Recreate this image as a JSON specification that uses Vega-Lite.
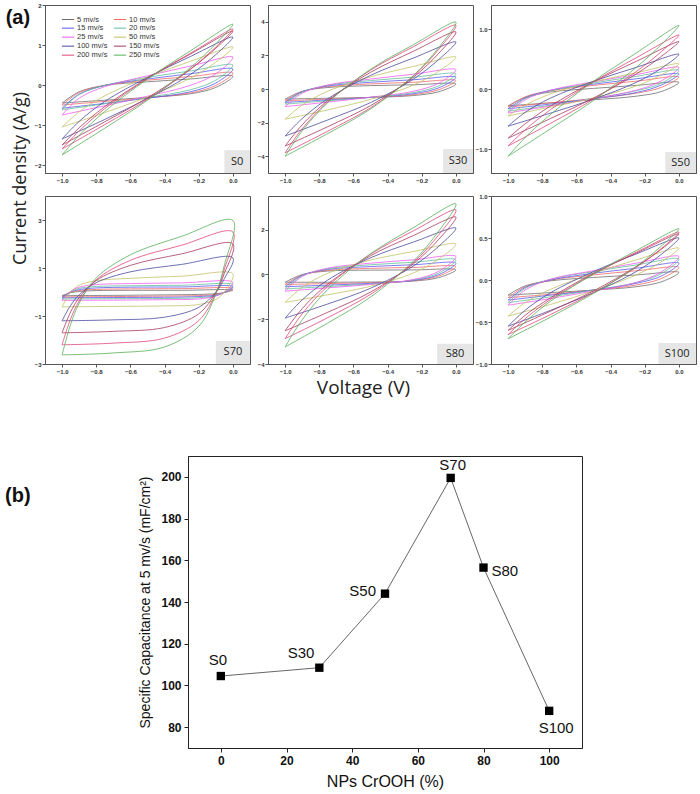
{
"$schema":"https://vega.github.io/schema/vega-lite/v6.json",
"padding":{"left":5,"top":1,"right":0,"bottom":0},
"config":{"font":"Liberation Sans","view":{"stroke":"#555"},
"line":{"interpolate":"catmull-rom"},
"axis":{"domainColor":"#555","tickColor":"#555","labelColor":"#333","grid":false,"labelFontWeight":"bold","labelFontSize":6,"tickSize":3,"labelPadding":1,"titleFontWeight":"normal","titleColor":"#222"}},
"datasets":{
"S0":[
{"r":5,"x":-1,"y":-0.45},{"r":5,"x":-0.9,"y":-0.17},{"r":5,"x":-0.75,"y":-0.01},{"r":5,"x":-0.5,"y":0.08},{"r":5,"x":-0.25,"y":0.15},{"r":5,"x":0,"y":0.22},{"r":5,"x":-0.1,"y":-0.06},{"r":5,"x":-0.25,"y":-0.22},{"r":5,"x":-0.5,"y":-0.31},{"r":5,"x":-0.75,"y":-0.38},{"r":5,"x":-1,"y":-0.45},
{"r":10,"x":-1,"y":-0.5},{"r":10,"x":-0.9,"y":-0.19},{"r":10,"x":-0.75,"y":-0.01},{"r":10,"x":-0.5,"y":0.12},{"r":10,"x":-0.25,"y":0.21},{"r":10,"x":0,"y":0.3},{"r":10,"x":-0.1,"y":-0.01},{"r":10,"x":-0.25,"y":-0.2},{"r":10,"x":-0.5,"y":-0.32},{"r":10,"x":-0.75,"y":-0.41},{"r":10,"x":-1,"y":-0.5},
{"r":15,"x":-1,"y":-0.58},{"r":15,"x":-0.9,"y":-0.23},{"r":15,"x":-0.75,"y":-0.01},{"r":15,"x":-0.5,"y":0.15},{"r":15,"x":-0.25,"y":0.28},{"r":15,"x":0,"y":0.4},{"r":15,"x":-0.1,"y":0.05},{"r":15,"x":-0.25,"y":-0.17},{"r":15,"x":-0.5,"y":-0.33},{"r":15,"x":-0.75,"y":-0.46},{"r":15,"x":-1,"y":-0.58},
{"r":20,"x":-1,"y":-0.62},{"r":20,"x":-0.9,"y":-0.24},{"r":20,"x":-0.75,"y":-0.01},{"r":20,"x":-0.5,"y":0.19},{"r":20,"x":-0.25,"y":0.35},{"r":20,"x":0,"y":0.5},{"r":20,"x":-0.1,"y":0.12},{"r":20,"x":-0.25,"y":-0.12},{"r":20,"x":-0.5,"y":-0.31},{"r":20,"x":-0.75,"y":-0.47},{"r":20,"x":-1,"y":-0.62},
{"r":25,"x":-1,"y":-0.75},{"r":25,"x":-0.9,"y":-0.33},{"r":25,"x":-0.75,"y":-0.04},{"r":25,"x":-0.5,"y":0.23},{"r":25,"x":-0.25,"y":0.47},{"r":25,"x":0,"y":0.7},{"r":25,"x":-0.1,"y":0.28},{"r":25,"x":-0.25,"y":-0.01},{"r":25,"x":-0.5,"y":-0.28},{"r":25,"x":-0.75,"y":-0.52},{"r":25,"x":-1,"y":-0.75},
{"r":50,"x":-1,"y":-1.05},{"r":50,"x":-0.9,"y":-0.67},{"r":50,"x":-0.75,"y":-0.27},{"r":50,"x":-0.5,"y":0.2},{"r":50,"x":-0.25,"y":0.59},{"r":50,"x":0,"y":0.95},{"r":50,"x":-0.1,"y":0.57},{"r":50,"x":-0.25,"y":0.17},{"r":50,"x":-0.5,"y":-0.3},{"r":50,"x":-0.75,"y":-0.69},{"r":50,"x":-1,"y":-1.05},
{"r":100,"x":-1,"y":-1.35},{"r":100,"x":-0.9,"y":-0.91},{"r":100,"x":-0.75,"y":-0.41},{"r":100,"x":-0.5,"y":0.19},{"r":100,"x":-0.25,"y":0.71},{"r":100,"x":0,"y":1.2},{"r":100,"x":-0.1,"y":0.76},{"r":100,"x":-0.25,"y":0.26},{"r":100,"x":-0.5,"y":-0.34},{"r":100,"x":-0.75,"y":-0.86},{"r":100,"x":-1,"y":-1.35},
{"r":150,"x":-1,"y":-1.5},{"r":150,"x":-0.9,"y":-1.07},{"r":150,"x":-0.75,"y":-0.54},{"r":150,"x":-0.5,"y":0.17},{"r":150,"x":-0.25,"y":0.77},{"r":150,"x":0,"y":1.35},{"r":150,"x":-0.1,"y":0.92},{"r":150,"x":-0.25,"y":0.39},{"r":150,"x":-0.5,"y":-0.32},{"r":150,"x":-0.75,"y":-0.92},{"r":150,"x":-1,"y":-1.5},
{"r":200,"x":-1,"y":-1.6},{"r":200,"x":-0.9,"y":-1.15},{"r":200,"x":-0.75,"y":-0.59},{"r":200,"x":-0.5,"y":0.16},{"r":200,"x":-0.25,"y":0.79},{"r":200,"x":0,"y":1.4},{"r":200,"x":-0.1,"y":0.95},{"r":200,"x":-0.25,"y":0.39},{"r":200,"x":-0.5,"y":-0.36},{"r":200,"x":-0.75,"y":-0.99},{"r":200,"x":-1,"y":-1.6},
{"r":250,"x":-1,"y":-1.75},{"r":250,"x":-0.9,"y":-1.26},{"r":250,"x":-0.75,"y":-0.66},{"r":250,"x":-0.5,"y":0.15},{"r":250,"x":-0.25,"y":0.85},{"r":250,"x":0,"y":1.52},{"r":250,"x":-0.1,"y":1.03},{"r":250,"x":-0.25,"y":0.43},{"r":250,"x":-0.5,"y":-0.38},{"r":250,"x":-0.75,"y":-1.08},{"r":250,"x":-1,"y":-1.75}],
"S30":[
{"r":5,"x":-1,"y":-0.6},{"r":5,"x":-0.9,"y":-0.14},{"r":5,"x":-0.75,"y":0.09},{"r":5,"x":-0.5,"y":0.2},{"r":5,"x":-0.25,"y":0.25},{"r":5,"x":0,"y":0.3},{"r":5,"x":-0.1,"y":-0.16},{"r":5,"x":-0.25,"y":-0.39},{"r":5,"x":-0.5,"y":-0.5},{"r":5,"x":-0.75,"y":-0.55},{"r":5,"x":-1,"y":-0.6},
{"r":10,"x":-1,"y":-0.7},{"r":10,"x":-0.9,"y":-0.16},{"r":10,"x":-0.75,"y":0.14},{"r":10,"x":-0.5,"y":0.3},{"r":10,"x":-0.25,"y":0.4},{"r":10,"x":0,"y":0.5},{"r":10,"x":-0.1,"y":-0.04},{"r":10,"x":-0.25,"y":-0.34},{"r":10,"x":-0.5,"y":-0.5},{"r":10,"x":-0.75,"y":-0.6},{"r":10,"x":-1,"y":-0.7},
{"r":15,"x":-1,"y":-0.8},{"r":15,"x":-0.9,"y":-0.17},{"r":15,"x":-0.75,"y":0.18},{"r":15,"x":-0.5,"y":0.4},{"r":15,"x":-0.25,"y":0.55},{"r":15,"x":0,"y":0.7},{"r":15,"x":-0.1,"y":0.07},{"r":15,"x":-0.25,"y":-0.28},{"r":15,"x":-0.5,"y":-0.5},{"r":15,"x":-0.75,"y":-0.65},{"r":15,"x":-1,"y":-0.8},
{"r":20,"x":-1,"y":-0.9},{"r":20,"x":-0.9,"y":-0.19},{"r":20,"x":-0.75,"y":0.22},{"r":20,"x":-0.5,"y":0.5},{"r":20,"x":-0.25,"y":0.7},{"r":20,"x":0,"y":0.9},{"r":20,"x":-0.1,"y":0.19},{"r":20,"x":-0.25,"y":-0.22},{"r":20,"x":-0.5,"y":-0.5},{"r":20,"x":-0.75,"y":-0.7},{"r":20,"x":-1,"y":-0.9},
{"r":25,"x":-1,"y":-1.05},{"r":25,"x":-0.9,"y":-0.25},{"r":25,"x":-0.75,"y":0.24},{"r":25,"x":-0.5,"y":0.59},{"r":25,"x":-0.25,"y":0.88},{"r":25,"x":0,"y":1.15},{"r":25,"x":-0.1,"y":0.35},{"r":25,"x":-0.25,"y":-0.14},{"r":25,"x":-0.5,"y":-0.49},{"r":25,"x":-0.75,"y":-0.78},{"r":25,"x":-1,"y":-1.05},
{"r":50,"x":-1,"y":-1.8},{"r":50,"x":-0.9,"y":-0.96},{"r":50,"x":-0.75,"y":-0.13},{"r":50,"x":-0.5,"y":0.72},{"r":50,"x":-0.25,"y":1.34},{"r":50,"x":0,"y":1.9},{"r":50,"x":-0.1,"y":1.06},{"r":50,"x":-0.25,"y":0.23},{"r":50,"x":-0.5,"y":-0.62},{"r":50,"x":-0.75,"y":-1.24},{"r":50,"x":-1,"y":-1.8},
{"r":100,"x":-1,"y":-2.8},{"r":100,"x":-0.9,"y":-1.76},{"r":100,"x":-0.75,"y":-0.58},{"r":100,"x":-0.5,"y":0.81},{"r":100,"x":-0.25,"y":1.84},{"r":100,"x":0,"y":2.8},{"r":100,"x":-0.1,"y":1.76},{"r":100,"x":-0.25,"y":0.58},{"r":100,"x":-0.5,"y":-0.81},{"r":100,"x":-0.75,"y":-1.84},{"r":100,"x":-1,"y":-2.8},
{"r":150,"x":-1,"y":-3.4},{"r":150,"x":-0.9,"y":-2.13},{"r":150,"x":-0.75,"y":-0.69},{"r":150,"x":-0.5,"y":0.99},{"r":150,"x":-0.25,"y":2.24},{"r":150,"x":0,"y":3.4},{"r":150,"x":-0.1,"y":2.13},{"r":150,"x":-0.25,"y":0.69},{"r":150,"x":-0.5,"y":-0.99},{"r":150,"x":-0.75,"y":-2.24},{"r":150,"x":-1,"y":-3.4},
{"r":200,"x":-1,"y":-3.8},{"r":200,"x":-0.9,"y":-2.37},{"r":200,"x":-0.75,"y":-0.77},{"r":200,"x":-0.5,"y":1.12},{"r":200,"x":-0.25,"y":2.51},{"r":200,"x":0,"y":3.8},{"r":200,"x":-0.1,"y":2.37},{"r":200,"x":-0.25,"y":0.77},{"r":200,"x":-0.5,"y":-1.12},{"r":200,"x":-0.75,"y":-2.51},{"r":200,"x":-1,"y":-3.8},
{"r":250,"x":-1,"y":-4.0},{"r":250,"x":-0.9,"y":-2.5},{"r":250,"x":-0.75,"y":-0.81},{"r":250,"x":-0.5,"y":1.17},{"r":250,"x":-0.25,"y":2.63},{"r":250,"x":0,"y":3.98},{"r":250,"x":-0.1,"y":2.48},{"r":250,"x":-0.25,"y":0.79},{"r":250,"x":-0.5,"y":-1.19},{"r":250,"x":-0.75,"y":-2.65},{"r":250,"x":-1,"y":-4.0}],
"S50":[
{"r":5,"x":-1,"y":-0.28},{"r":5,"x":-0.9,"y":-0.14},{"r":5,"x":-0.75,"y":-0.05},{"r":5,"x":-0.5,"y":0.01},{"r":5,"x":-0.25,"y":0.06},{"r":5,"x":0,"y":0.11},{"r":5,"x":-0.1,"y":-0.04},{"r":5,"x":-0.25,"y":-0.12},{"r":5,"x":-0.5,"y":-0.18},{"r":5,"x":-0.75,"y":-0.23},{"r":5,"x":-1,"y":-0.28},
{"r":10,"x":-1,"y":-0.3},{"r":10,"x":-0.9,"y":-0.13},{"r":10,"x":-0.75,"y":-0.03},{"r":10,"x":-0.5,"y":0.06},{"r":10,"x":-0.25,"y":0.13},{"r":10,"x":0,"y":0.2},{"r":10,"x":-0.1,"y":0.03},{"r":10,"x":-0.25,"y":-0.07},{"r":10,"x":-0.5,"y":-0.16},{"r":10,"x":-0.75,"y":-0.23},{"r":10,"x":-1,"y":-0.3},
{"r":15,"x":-1,"y":-0.33},{"r":15,"x":-0.9,"y":-0.15},{"r":15,"x":-0.75,"y":-0.02},{"r":15,"x":-0.5,"y":0.08},{"r":15,"x":-0.25,"y":0.17},{"r":15,"x":0,"y":0.25},{"r":15,"x":-0.1,"y":0.07},{"r":15,"x":-0.25,"y":-0.06},{"r":15,"x":-0.5,"y":-0.16},{"r":15,"x":-0.75,"y":-0.25},{"r":15,"x":-1,"y":-0.33},
{"r":20,"x":-1,"y":-0.37},{"r":20,"x":-0.9,"y":-0.16},{"r":20,"x":-0.75,"y":-0.03},{"r":20,"x":-0.5,"y":0.1},{"r":20,"x":-0.25,"y":0.21},{"r":20,"x":0,"y":0.31},{"r":20,"x":-0.1,"y":0.1},{"r":20,"x":-0.25,"y":-0.03},{"r":20,"x":-0.5,"y":-0.16},{"r":20,"x":-0.75,"y":-0.27},{"r":20,"x":-1,"y":-0.37},
{"r":25,"x":-1,"y":-0.4},{"r":25,"x":-0.9,"y":-0.18},{"r":25,"x":-0.75,"y":-0.02},{"r":25,"x":-0.5,"y":0.12},{"r":25,"x":-0.25,"y":0.24},{"r":25,"x":0,"y":0.36},{"r":25,"x":-0.1,"y":0.14},{"r":25,"x":-0.25,"y":-0.02},{"r":25,"x":-0.5,"y":-0.16},{"r":25,"x":-0.75,"y":-0.28},{"r":25,"x":-1,"y":-0.4},
{"r":50,"x":-1,"y":-0.45},{"r":50,"x":-0.9,"y":-0.27},{"r":50,"x":-0.75,"y":-0.08},{"r":50,"x":-0.5,"y":0.12},{"r":50,"x":-0.25,"y":0.27},{"r":50,"x":0,"y":0.42},{"r":50,"x":-0.1,"y":0.24},{"r":50,"x":-0.25,"y":0.05},{"r":50,"x":-0.5,"y":-0.15},{"r":50,"x":-0.75,"y":-0.3},{"r":50,"x":-1,"y":-0.45},
{"r":100,"x":-1,"y":-0.62},{"r":100,"x":-0.9,"y":-0.39},{"r":100,"x":-0.75,"y":-0.15},{"r":100,"x":-0.5,"y":0.13},{"r":100,"x":-0.25,"y":0.36},{"r":100,"x":0,"y":0.58},{"r":100,"x":-0.1,"y":0.35},{"r":100,"x":-0.25,"y":0.11},{"r":100,"x":-0.5,"y":-0.17},{"r":100,"x":-0.75,"y":-0.4},{"r":100,"x":-1,"y":-0.62},
{"r":150,"x":-1,"y":-0.82},{"r":150,"x":-0.9,"y":-0.58},{"r":150,"x":-0.75,"y":-0.28},{"r":150,"x":-0.5,"y":0.12},{"r":150,"x":-0.25,"y":0.46},{"r":150,"x":0,"y":0.79},{"r":150,"x":-0.1,"y":0.55},{"r":150,"x":-0.25,"y":0.25},{"r":150,"x":-0.5,"y":-0.15},{"r":150,"x":-0.75,"y":-0.49},{"r":150,"x":-1,"y":-0.82},
{"r":200,"x":-1,"y":-0.95},{"r":200,"x":-0.9,"y":-0.68},{"r":200,"x":-0.75,"y":-0.34},{"r":200,"x":-0.5,"y":0.12},{"r":200,"x":-0.25,"y":0.52},{"r":200,"x":0,"y":0.9},{"r":200,"x":-0.1,"y":0.63},{"r":200,"x":-0.25,"y":0.29},{"r":200,"x":-0.5,"y":-0.17},{"r":200,"x":-0.75,"y":-0.57},{"r":200,"x":-1,"y":-0.95},
{"r":250,"x":-1,"y":-1.12},{"r":250,"x":-0.9,"y":-0.81},{"r":250,"x":-0.75,"y":-0.42},{"r":250,"x":-0.5,"y":0.13},{"r":250,"x":-0.25,"y":0.6},{"r":250,"x":0,"y":1.06},{"r":250,"x":-0.1,"y":0.75},{"r":250,"x":-0.25,"y":0.36},{"r":250,"x":-0.5,"y":-0.19},{"r":250,"x":-0.75,"y":-0.66},{"r":250,"x":-1,"y":-1.12}],
"S70":[
{"r":5,"x":-1,"y":-0.15},{"r":5,"x":-0.95,"y":-0.03},{"r":5,"x":-0.9,"y":0.02},{"r":5,"x":-0.8,"y":0.06},{"r":5,"x":-0.6,"y":0.07},{"r":5,"x":-0.3,"y":0.07},{"r":5,"x":0,"y":0.08},{"r":5,"x":-0.05,"y":-0.02},{"r":5,"x":-0.1,"y":-0.07},{"r":5,"x":-0.2,"y":-0.1},{"r":5,"x":-0.4,"y":-0.12},{"r":5,"x":-0.7,"y":-0.14},{"r":5,"x":-1,"y":-0.15},
{"r":10,"x":-1,"y":-0.2},{"r":10,"x":-0.95,"y":-0.02},{"r":10,"x":-0.9,"y":0.06},{"r":10,"x":-0.8,"y":0.11},{"r":10,"x":-0.6,"y":0.13},{"r":10,"x":-0.3,"y":0.14},{"r":10,"x":0,"y":0.15},{"r":10,"x":-0.05,"y":-0.02},{"r":10,"x":-0.1,"y":-0.1},{"r":10,"x":-0.2,"y":-0.15},{"r":10,"x":-0.4,"y":-0.17},{"r":10,"x":-0.7,"y":-0.19},{"r":10,"x":-1,"y":-0.2},
{"r":15,"x":-1,"y":-0.24},{"r":15,"x":-0.95,"y":0.0},{"r":15,"x":-0.9,"y":0.1},{"r":15,"x":-0.8,"y":0.17},{"r":15,"x":-0.6,"y":0.2},{"r":15,"x":-0.3,"y":0.21},{"r":15,"x":0,"y":0.22},{"r":15,"x":-0.05,"y":-0.02},{"r":15,"x":-0.1,"y":-0.13},{"r":15,"x":-0.2,"y":-0.19},{"r":15,"x":-0.4,"y":-0.22},{"r":15,"x":-0.7,"y":-0.23},{"r":15,"x":-1,"y":-0.24},
{"r":20,"x":-1,"y":-0.29},{"r":20,"x":-0.95,"y":0.01},{"r":20,"x":-0.9,"y":0.15},{"r":20,"x":-0.8,"y":0.23},{"r":20,"x":-0.6,"y":0.26},{"r":20,"x":-0.3,"y":0.28},{"r":20,"x":0,"y":0.3},{"r":20,"x":-0.05,"y":-0.01},{"r":20,"x":-0.1,"y":-0.15},{"r":20,"x":-0.2,"y":-0.24},{"r":20,"x":-0.4,"y":-0.27},{"r":20,"x":-0.7,"y":-0.28},{"r":20,"x":-1,"y":-0.29},
{"r":25,"x":-1,"y":-0.35},{"r":25,"x":-0.95,"y":0.03},{"r":25,"x":-0.9,"y":0.2},{"r":25,"x":-0.8,"y":0.31},{"r":25,"x":-0.6,"y":0.35},{"r":25,"x":-0.3,"y":0.38},{"r":25,"x":0,"y":0.4},{"r":25,"x":-0.05,"y":0.0},{"r":25,"x":-0.1,"y":-0.17},{"r":25,"x":-0.2,"y":-0.29},{"r":25,"x":-0.4,"y":-0.32},{"r":25,"x":-0.7,"y":-0.34},{"r":25,"x":-1,"y":-0.35},
{"r":50,"x":-1,"y":-0.62},{"r":50,"x":-0.95,"y":0.0},{"r":50,"x":-0.9,"y":0.28},{"r":50,"x":-0.8,"y":0.47},{"r":50,"x":-0.6,"y":0.57},{"r":50,"x":-0.3,"y":0.66},{"r":50,"x":0,"y":0.75},{"r":50,"x":-0.05,"y":0.01},{"r":50,"x":-0.1,"y":-0.31},{"r":50,"x":-0.2,"y":-0.52},{"r":50,"x":-0.4,"y":-0.58},{"r":50,"x":-0.7,"y":-0.6},{"r":50,"x":-1,"y":-0.62},
{"r":100,"x":-1,"y":-1.2},{"r":100,"x":-0.95,"y":-0.56},{"r":100,"x":-0.9,"y":-0.12},{"r":100,"x":-0.8,"y":0.39},{"r":100,"x":-0.6,"y":0.84},{"r":100,"x":-0.3,"y":1.15},{"r":100,"x":0,"y":1.42},{"r":100,"x":-0.05,"y":0.56},{"r":100,"x":-0.1,"y":-0.01},{"r":100,"x":-0.2,"y":-0.64},{"r":100,"x":-0.4,"y":-1.05},{"r":100,"x":-0.7,"y":-1.16},{"r":100,"x":-1,"y":-1.2},
{"r":150,"x":-1,"y":-1.7},{"r":150,"x":-0.95,"y":-0.83},{"r":150,"x":-0.9,"y":-0.24},{"r":150,"x":-0.8,"y":0.48},{"r":150,"x":-0.6,"y":1.11},{"r":150,"x":-0.3,"y":1.59},{"r":150,"x":0,"y":2.0},{"r":150,"x":-0.05,"y":0.78},{"r":150,"x":-0.1,"y":-0.02},{"r":150,"x":-0.2,"y":-0.91},{"r":150,"x":-0.4,"y":-1.48},{"r":150,"x":-0.7,"y":-1.64},{"r":150,"x":-1,"y":-1.7},
{"r":200,"x":-1,"y":-2.2},{"r":200,"x":-0.95,"y":-1.12},{"r":200,"x":-0.9,"y":-0.38},{"r":200,"x":-0.8,"y":0.51},{"r":200,"x":-0.6,"y":1.32},{"r":200,"x":-0.3,"y":1.95},{"r":200,"x":0,"y":2.5},{"r":200,"x":-0.05,"y":0.96},{"r":200,"x":-0.1,"y":-0.06},{"r":200,"x":-0.2,"y":-1.19},{"r":200,"x":-0.4,"y":-1.92},{"r":200,"x":-0.7,"y":-2.13},{"r":200,"x":-1,"y":-2.2},
{"r":250,"x":-1,"y":-2.62},{"r":250,"x":-0.95,"y":-1.35},{"r":250,"x":-0.9,"y":-0.47},{"r":250,"x":-0.8,"y":0.59},{"r":250,"x":-0.6,"y":1.55},{"r":250,"x":-0.3,"y":2.32},{"r":250,"x":0,"y":2.98},{"r":250,"x":-0.05,"y":1.13},{"r":250,"x":-0.1,"y":-0.08},{"r":250,"x":-0.2,"y":-1.43},{"r":250,"x":-0.4,"y":-2.29},{"r":250,"x":-0.7,"y":-2.54},{"r":250,"x":-1,"y":-2.62}],
"S80":[
{"r":5,"x":-1,"y":-0.35},{"r":5,"x":-0.9,"y":-0.01},{"r":5,"x":-0.75,"y":0.15},{"r":5,"x":-0.5,"y":0.19},{"r":5,"x":-0.25,"y":0.2},{"r":5,"x":0,"y":0.2},{"r":5,"x":-0.1,"y":-0.14},{"r":5,"x":-0.25,"y":-0.3},{"r":5,"x":-0.5,"y":-0.34},{"r":5,"x":-0.75,"y":-0.35},{"r":5,"x":-1,"y":-0.35},
{"r":10,"x":-1,"y":-0.45},{"r":10,"x":-0.9,"y":-0.03},{"r":10,"x":-0.75,"y":0.18},{"r":10,"x":-0.5,"y":0.27},{"r":10,"x":-0.25,"y":0.31},{"r":10,"x":0,"y":0.35},{"r":10,"x":-0.1,"y":-0.07},{"r":10,"x":-0.25,"y":-0.28},{"r":10,"x":-0.5,"y":-0.37},{"r":10,"x":-0.75,"y":-0.41},{"r":10,"x":-1,"y":-0.45},
{"r":15,"x":-1,"y":-0.55},{"r":15,"x":-0.9,"y":-0.04},{"r":15,"x":-0.75,"y":0.22},{"r":15,"x":-0.5,"y":0.35},{"r":15,"x":-0.25,"y":0.43},{"r":15,"x":0,"y":0.5},{"r":15,"x":-0.1,"y":-0.01},{"r":15,"x":-0.25,"y":-0.27},{"r":15,"x":-0.5,"y":-0.4},{"r":15,"x":-0.75,"y":-0.48},{"r":15,"x":-1,"y":-0.55},
{"r":20,"x":-1,"y":-0.65},{"r":20,"x":-0.9,"y":-0.06},{"r":20,"x":-0.75,"y":0.25},{"r":20,"x":-0.5,"y":0.43},{"r":20,"x":-0.25,"y":0.54},{"r":20,"x":0,"y":0.65},{"r":20,"x":-0.1,"y":0.06},{"r":20,"x":-0.25,"y":-0.25},{"r":20,"x":-0.5,"y":-0.43},{"r":20,"x":-0.75,"y":-0.54},{"r":20,"x":-1,"y":-0.65},
{"r":25,"x":-1,"y":-0.75},{"r":25,"x":-0.9,"y":-0.09},{"r":25,"x":-0.75,"y":0.28},{"r":25,"x":-0.5,"y":0.5},{"r":25,"x":-0.25,"y":0.65},{"r":25,"x":0,"y":0.8},{"r":25,"x":-0.1,"y":0.14},{"r":25,"x":-0.25,"y":-0.23},{"r":25,"x":-0.5,"y":-0.45},{"r":25,"x":-0.75,"y":-0.6},{"r":25,"x":-1,"y":-0.75},
{"r":50,"x":-1,"y":-1.25},{"r":50,"x":-0.9,"y":-0.58},{"r":50,"x":-0.75,"y":0.05},{"r":50,"x":-0.5,"y":0.64},{"r":50,"x":-0.25,"y":1.02},{"r":50,"x":0,"y":1.36},{"r":50,"x":-0.1,"y":0.69},{"r":50,"x":-0.25,"y":0.06},{"r":50,"x":-0.5,"y":-0.53},{"r":50,"x":-0.75,"y":-0.91},{"r":50,"x":-1,"y":-1.25},
{"r":100,"x":-1,"y":-1.95},{"r":100,"x":-0.9,"y":-1.14},{"r":100,"x":-0.75,"y":-0.25},{"r":100,"x":-0.5,"y":0.74},{"r":100,"x":-0.25,"y":1.44},{"r":100,"x":0,"y":2.07},{"r":100,"x":-0.1,"y":1.26},{"r":100,"x":-0.25,"y":0.37},{"r":100,"x":-0.5,"y":-0.62},{"r":100,"x":-0.75,"y":-1.32},{"r":100,"x":-1,"y":-1.95},
{"r":150,"x":-1,"y":-2.52},{"r":150,"x":-0.9,"y":-1.53},{"r":150,"x":-0.75,"y":-0.43},{"r":150,"x":-0.5,"y":0.83},{"r":150,"x":-0.25,"y":1.73},{"r":150,"x":0,"y":2.56},{"r":150,"x":-0.1,"y":1.57},{"r":150,"x":-0.25,"y":0.47},{"r":150,"x":-0.5,"y":-0.79},{"r":150,"x":-0.75,"y":-1.69},{"r":150,"x":-1,"y":-2.52},
{"r":200,"x":-1,"y":-2.87},{"r":200,"x":-0.9,"y":-1.76},{"r":200,"x":-0.75,"y":-0.52},{"r":200,"x":-0.5,"y":0.9},{"r":200,"x":-0.25,"y":1.94},{"r":200,"x":0,"y":2.88},{"r":200,"x":-0.1,"y":1.77},{"r":200,"x":-0.25,"y":0.53},{"r":200,"x":-0.5,"y":-0.89},{"r":200,"x":-0.75,"y":-1.93},{"r":200,"x":-1,"y":-2.87},
{"r":250,"x":-1,"y":-3.24},{"r":250,"x":-0.9,"y":-2.03},{"r":250,"x":-0.75,"y":-0.67},{"r":250,"x":-0.5,"y":0.92},{"r":250,"x":-0.25,"y":2.08},{"r":250,"x":0,"y":3.15},{"r":250,"x":-0.1,"y":1.94},{"r":250,"x":-0.25,"y":0.58},{"r":250,"x":-0.5,"y":-1.01},{"r":250,"x":-0.75,"y":-2.17},{"r":250,"x":-1,"y":-3.24}],
"S100":[
{"r":5,"x":-1,"y":-0.18},{"r":5,"x":-0.9,"y":-0.07},{"r":5,"x":-0.75,"y":-0.01},{"r":5,"x":-0.5,"y":0.03},{"r":5,"x":-0.25,"y":0.06},{"r":5,"x":0,"y":0.09},{"r":5,"x":-0.1,"y":-0.02},{"r":5,"x":-0.25,"y":-0.08},{"r":5,"x":-0.5,"y":-0.12},{"r":5,"x":-0.75,"y":-0.15},{"r":5,"x":-1,"y":-0.18},
{"r":10,"x":-1,"y":-0.21},{"r":10,"x":-0.9,"y":-0.08},{"r":10,"x":-0.75,"y":0.0},{"r":10,"x":-0.5,"y":0.06},{"r":10,"x":-0.25,"y":0.11},{"r":10,"x":0,"y":0.15},{"r":10,"x":-0.1,"y":0.02},{"r":10,"x":-0.25,"y":-0.06},{"r":10,"x":-0.5,"y":-0.12},{"r":10,"x":-0.75,"y":-0.17},{"r":10,"x":-1,"y":-0.21},
{"r":15,"x":-1,"y":-0.24},{"r":15,"x":-0.9,"y":-0.09},{"r":15,"x":-0.75,"y":0.0},{"r":15,"x":-0.5,"y":0.08},{"r":15,"x":-0.25,"y":0.14},{"r":15,"x":0,"y":0.2},{"r":15,"x":-0.1,"y":0.05},{"r":15,"x":-0.25,"y":-0.04},{"r":15,"x":-0.5,"y":-0.12},{"r":15,"x":-0.75,"y":-0.18},{"r":15,"x":-1,"y":-0.24},
{"r":20,"x":-1,"y":-0.27},{"r":20,"x":-0.9,"y":-0.1},{"r":20,"x":-0.75,"y":0.01},{"r":20,"x":-0.5,"y":0.1},{"r":20,"x":-0.25,"y":0.18},{"r":20,"x":0,"y":0.25},{"r":20,"x":-0.1,"y":0.08},{"r":20,"x":-0.25,"y":-0.03},{"r":20,"x":-0.5,"y":-0.12},{"r":20,"x":-0.75,"y":-0.2},{"r":20,"x":-1,"y":-0.27},
{"r":25,"x":-1,"y":-0.3},{"r":25,"x":-0.9,"y":-0.12},{"r":25,"x":-0.75,"y":0.01},{"r":25,"x":-0.5,"y":0.11},{"r":25,"x":-0.25,"y":0.2},{"r":25,"x":0,"y":0.28},{"r":25,"x":-0.1,"y":0.1},{"r":25,"x":-0.25,"y":-0.03},{"r":25,"x":-0.5,"y":-0.13},{"r":25,"x":-0.75,"y":-0.22},{"r":25,"x":-1,"y":-0.3},
{"r":50,"x":-1,"y":-0.43},{"r":50,"x":-0.9,"y":-0.27},{"r":50,"x":-0.75,"y":-0.11},{"r":50,"x":-0.5,"y":0.08},{"r":50,"x":-0.25,"y":0.24},{"r":50,"x":0,"y":0.38},{"r":50,"x":-0.1,"y":0.22},{"r":50,"x":-0.25,"y":0.06},{"r":50,"x":-0.5,"y":-0.13},{"r":50,"x":-0.75,"y":-0.29},{"r":50,"x":-1,"y":-0.43},
{"r":100,"x":-1,"y":-0.55},{"r":100,"x":-0.9,"y":-0.36},{"r":100,"x":-0.75,"y":-0.15},{"r":100,"x":-0.5,"y":0.1},{"r":100,"x":-0.25,"y":0.31},{"r":100,"x":0,"y":0.5},{"r":100,"x":-0.1,"y":0.31},{"r":100,"x":-0.25,"y":0.1},{"r":100,"x":-0.5,"y":-0.15},{"r":100,"x":-0.75,"y":-0.36},{"r":100,"x":-1,"y":-0.55},
{"r":150,"x":-1,"y":-0.6},{"r":150,"x":-0.9,"y":-0.42},{"r":150,"x":-0.75,"y":-0.21},{"r":150,"x":-0.5,"y":0.08},{"r":150,"x":-0.25,"y":0.32},{"r":150,"x":0,"y":0.55},{"r":150,"x":-0.1,"y":0.37},{"r":150,"x":-0.25,"y":0.16},{"r":150,"x":-0.5,"y":-0.13},{"r":150,"x":-0.75,"y":-0.37},{"r":150,"x":-1,"y":-0.6},
{"r":200,"x":-1,"y":-0.65},{"r":200,"x":-0.9,"y":-0.46},{"r":200,"x":-0.75,"y":-0.23},{"r":200,"x":-0.5,"y":0.07},{"r":200,"x":-0.25,"y":0.33},{"r":200,"x":0,"y":0.57},{"r":200,"x":-0.1,"y":0.38},{"r":200,"x":-0.25,"y":0.15},{"r":200,"x":-0.5,"y":-0.15},{"r":200,"x":-0.75,"y":-0.41},{"r":200,"x":-1,"y":-0.65},
{"r":250,"x":-1,"y":-0.7},{"r":250,"x":-0.9,"y":-0.5},{"r":250,"x":-0.75,"y":-0.25},{"r":250,"x":-0.5,"y":0.07},{"r":250,"x":-0.25,"y":0.35},{"r":250,"x":0,"y":0.61},{"r":250,"x":-0.1,"y":0.41},{"r":250,"x":-0.25,"y":0.16},{"r":250,"x":-0.5,"y":-0.16},{"r":250,"x":-0.75,"y":-0.44},{"r":250,"x":-1,"y":-0.7}],
"cap":[{"s":"S0","n":0,"c":104.5},{"s":"S30","n":30,"c":108.5},{"s":"S50","n":50,"c":144},{"s":"S70","n":70,"c":199.5},{"s":"S80","n":80,"c":156.5},{"s":"S100","n":100,"c":87.8}]
},
"spacing":57,
"vconcat":[
{
"title":{"text":"(a)","anchor":"start","frame":"bounds","offset":-26,"dx":-5,"fontSize":20,"fontWeight":"bold","font":"Liberation Sans","color":"#111"},
"columns":3,
"bounds":"flush",
"spacing":{"row":23,"column":18},
"concat":[
{"width":205,"height":168,"layer":[
{"data":{"name":"S0"},"mark":{"type":"line","strokeWidth":0.8,"clip":true},"encoding":{
"x":{"field":"x","type":"quantitative","scale":{"domain":[-1.1,0.1],"nice":false},"axis":{"values":[-1,-0.8,-0.6,-0.4,-0.2,0],"format":".1f","title":null}},
"y":{"field":"y","type":"quantitative","scale":{"domain":[-2.2,2],"nice":false},"axis":{"values":[-2,-1,0,1,2],"title":"Current density (A/g)","titleFont":"Open Sans","titleFontSize":18,"titleY":173,"titlePadding":5}},
"color":{"field":"r","type":"ordinal","scale":{"domain":[5,15,25,100,200,10,20,50,150,250],"range":["#6e6e6e","#5a5af0","#f05cf0","#4a4aa0","#e0457a","#f06a6a","#5fbf9a","#c2c266","#a83a5a","#55b055"]},"legend":{"title":null,"orient":"none","legendX":16,"legendY":10,"columns":2,"symbolType":"stroke","symbolSize":150,"symbolStrokeWidth":1,"labelFontSize":7.5,"labelColor":"#333","labelExpr":"datum.label + ' mv/s'","clipHeight":8.3,"rowPadding":0,"columnPadding":5,"labelOffset":2}},
"order":{"value":null}}},
{"data":{"values":[{}]},"mark":{"type":"rect","fill":"#e6e6e6"},"encoding":{"x":{"datum":-0.05},"x2":{"datum":0.1},"y":{"datum":-2.2},"y2":{"datum":-1.63}}},
{"data":{"values":[{}]},"mark":{"type":"text","font":"Open Sans","fontSize":11,"color":"#222"},"encoding":{"x":{"datum":0.025},"y":{"datum":-1.915},"text":{"value":"S0"}}}
]},
{"width":205,"height":168,"layer":[
{"data":{"name":"S30"},"mark":{"type":"line","strokeWidth":0.8,"clip":true},"encoding":{
"x":{"field":"x","type":"quantitative","scale":{"domain":[-1.1,0.1],"nice":false},"axis":{"values":[-1,-0.8,-0.6,-0.4,-0.2,0],"format":".1f","title":null}},
"y":{"field":"y","type":"quantitative","scale":{"domain":[-5,5],"nice":false},"axis":{"values":[-4,-2,0,2,4],"title":null}},
"color":{"field":"r","type":"ordinal","scale":{"domain":[5,15,25,100,200,10,20,50,150,250],"range":["#6e6e6e","#5a5af0","#f05cf0","#4a4aa0","#e0457a","#f06a6a","#5fbf9a","#c2c266","#a83a5a","#55b055"]}},
"order":{"value":null}}},
{"data":{"values":[{}]},"mark":{"type":"rect","fill":"#e6e6e6"},"encoding":{"x":{"datum":-0.075},"x2":{"datum":0.1},"y":{"datum":-5},"y2":{"datum":-3.57}}},
{"data":{"values":[{}]},"mark":{"type":"text","font":"Open Sans","fontSize":11,"color":"#222"},"encoding":{"x":{"datum":0.0125},"y":{"datum":-4.285},"text":{"value":"S30"}}}
]},
{"width":205,"height":168,"layer":[
{"data":{"name":"S50"},"mark":{"type":"line","strokeWidth":0.8,"clip":true},"encoding":{
"x":{"field":"x","type":"quantitative","scale":{"domain":[-1.1,0.1],"nice":false},"axis":{"values":[-1,-0.8,-0.6,-0.4,-0.2,0],"format":".1f","title":null}},
"y":{"field":"y","type":"quantitative","scale":{"domain":[-1.4,1.4],"nice":false},"axis":{"values":[-1,0,1],"title":null}},
"color":{"field":"r","type":"ordinal","scale":{"domain":[5,15,25,100,200,10,20,50,150,250],"range":["#6e6e6e","#5a5af0","#f05cf0","#4a4aa0","#e0457a","#f06a6a","#5fbf9a","#c2c266","#a83a5a","#55b055"]}},
"order":{"value":null}}},
{"data":{"values":[{}]},"mark":{"type":"rect","fill":"#e6e6e6"},"encoding":{"x":{"datum":-0.08},"x2":{"datum":0.1},"y":{"datum":-1.4},"y2":{"datum":-1.05}}},
{"data":{"values":[{}]},"mark":{"type":"text","font":"Open Sans","fontSize":11,"color":"#222"},"encoding":{"x":{"datum":0.01},"y":{"datum":-1.225},"text":{"value":"S50"}}}
]},
{"width":205,"height":168,"layer":[
{"data":{"name":"S70"},"mark":{"type":"line","strokeWidth":0.8,"clip":true},"encoding":{
"x":{"field":"x","type":"quantitative","scale":{"domain":[-1.1,0.1],"nice":false},"axis":{"values":[-1,-0.8,-0.6,-0.4,-0.2,0],"format":".1f","title":null}},
"y":{"field":"y","type":"quantitative","scale":{"domain":[-3,4],"nice":false},"axis":{"values":[-3,-2,-1,0,1,2,3,4],"title":null}},
"color":{"field":"r","type":"ordinal","scale":{"domain":[5,15,25,100,200,10,20,50,150,250],"range":["#6e6e6e","#5a5af0","#f05cf0","#4a4aa0","#e0457a","#f06a6a","#5fbf9a","#c2c266","#a83a5a","#55b055"]}},
"order":{"value":null}}},
{"data":{"values":[{}]},"mark":{"type":"rect","fill":"#e6e6e6"},"encoding":{"x":{"datum":-0.1},"x2":{"datum":0.1},"y":{"datum":-3},"y2":{"datum":-2.04}}},
{"data":{"values":[{}]},"mark":{"type":"text","font":"Open Sans","fontSize":11,"color":"#222"},"encoding":{"x":{"datum":0.0},"y":{"datum":-2.52},"text":{"value":"S70"}}}
]},
{"width":205,"height":168,"layer":[
{"data":{"name":"S80"},"mark":{"type":"line","strokeWidth":0.8,"clip":true},"encoding":{
"x":{"field":"x","type":"quantitative","scale":{"domain":[-1.1,0.1],"nice":false},"axis":{"values":[-1,-0.8,-0.6,-0.4,-0.2,0],"format":".1f","title":"Voltage (V)","titleFont":"Open Sans","titleFontSize":19,"titlePadding":4,"titleX":95}},
"y":{"field":"y","type":"quantitative","scale":{"domain":[-4,3.5],"nice":false},"axis":{"values":[-4,-2,0,2],"title":null}},
"color":{"field":"r","type":"ordinal","scale":{"domain":[5,15,25,100,200,10,20,50,150,250],"range":["#6e6e6e","#5a5af0","#f05cf0","#4a4aa0","#e0457a","#f06a6a","#5fbf9a","#c2c266","#a83a5a","#55b055"]}},
"order":{"value":null}}},
{"data":{"values":[{}]},"mark":{"type":"rect","fill":"#e6e6e6"},"encoding":{"x":{"datum":-0.11},"x2":{"datum":0.1},"y":{"datum":-4},"y2":{"datum":-3.1}}},
{"data":{"values":[{}]},"mark":{"type":"text","font":"Open Sans","fontSize":11,"color":"#222"},"encoding":{"x":{"datum":-0.005},"y":{"datum":-3.55},"text":{"value":"S80"}}}
]},
{"width":205,"height":168,"layer":[
{"data":{"name":"S100"},"mark":{"type":"line","strokeWidth":0.8,"clip":true},"encoding":{
"x":{"field":"x","type":"quantitative","scale":{"domain":[-1.1,0.1],"nice":false},"axis":{"values":[-1,-0.8,-0.6,-0.4,-0.2,0],"format":".1f","title":null}},
"y":{"field":"y","type":"quantitative","scale":{"domain":[-1,1],"nice":false},"axis":{"values":[-1,-0.5,0,0.5,1],"format":".1f","title":null}},
"color":{"field":"r","type":"ordinal","scale":{"domain":[5,15,25,100,200,10,20,50,150,250],"range":["#6e6e6e","#5a5af0","#f05cf0","#4a4aa0","#e0457a","#f06a6a","#5fbf9a","#c2c266","#a83a5a","#55b055"]}},
"order":{"value":null}}},
{"data":{"values":[{}]},"mark":{"type":"rect","fill":"#e6e6e6"},"encoding":{"x":{"datum":-0.12},"x2":{"datum":0.1},"y":{"datum":-1},"y2":{"datum":-0.75}}},
{"data":{"values":[{}]},"mark":{"type":"text","font":"Open Sans","fontSize":11,"color":"#222"},"encoding":{"x":{"datum":-0.01},"y":{"datum":-0.875},"text":{"value":"S100"}}}
]}
]
},
{
"spacing":0,
"hconcat":[
{
"width":93,"height":292,
"title":{"text":"(b)","anchor":"start","frame":"group","offset":-50,"dx":-40,"fontSize":20,"fontWeight":"bold","font":"Liberation Sans","color":"#111"},
"view":{"stroke":null},
"data":{"values":[]},
"mark":{"type":"point"}
},
{
"width":394,"height":292,
"view":{"stroke":"#222"},
"data":{"name":"cap"},
"encoding":{
"x":{"field":"n","type":"quantitative","scale":{"domain":[-10,110],"nice":false},"axis":{"values":[0,20,40,60,80,100],"title":"NPs CrOOH (%)","labelFontSize":12,"labelColor":"#111","domainColor":"#222","tickColor":"#222","tickSize":4,"labelPadding":3,"titleFontSize":16,"titlePadding":7,"titleColor":"#111"}},
"y":{"field":"c","type":"quantitative","scale":{"domain":[70,210],"nice":false},"axis":{"values":[80,100,120,140,160,180,200],"title":"Specific Capacitance at 5 mv/s  (mF/cm²)","labelFontSize":12,"labelColor":"#111","domainColor":"#222","tickColor":"#222","tickSize":4,"labelPadding":3,"titleFontSize":14,"titlePadding":8,"titleColor":"#111"}}},
"layer":[
{"mark":{"type":"line","color":"#555","strokeWidth":0.9,"interpolate":"linear"}},
{"mark":{"type":"square","size":70,"color":"#000","filled":true,"opacity":1}},
{"transform":[{"filter":"datum.s==='S0'"}],"mark":{"type":"text","fontSize":15,"color":"#111","align":"center","baseline":"bottom","dx":-3,"dy":-8},"encoding":{"text":{"field":"s"}}},
{"transform":[{"filter":"datum.s==='S30'"}],"mark":{"type":"text","fontSize":15,"color":"#111","align":"right","baseline":"bottom","dx":-5,"dy":-7},"encoding":{"text":{"field":"s"}}},
{"transform":[{"filter":"datum.s==='S50'"}],"mark":{"type":"text","fontSize":15,"color":"#111","align":"right","baseline":"middle","dx":-9,"dy":-3},"encoding":{"text":{"field":"s"}}},
{"transform":[{"filter":"datum.s==='S70'"}],"mark":{"type":"text","fontSize":15,"color":"#111","align":"center","baseline":"bottom","dx":2,"dy":-5},"encoding":{"text":{"field":"s"}}},
{"transform":[{"filter":"datum.s==='S80'"}],"mark":{"type":"text","fontSize":15,"color":"#111","align":"left","baseline":"middle","dx":8,"dy":3},"encoding":{"text":{"field":"s"}}},
{"transform":[{"filter":"datum.s==='S100'"}],"mark":{"type":"text","fontSize":15,"color":"#111","align":"center","baseline":"top","dx":7,"dy":10},"encoding":{"text":{"field":"s"}}}
]
}
]
}
]
}
